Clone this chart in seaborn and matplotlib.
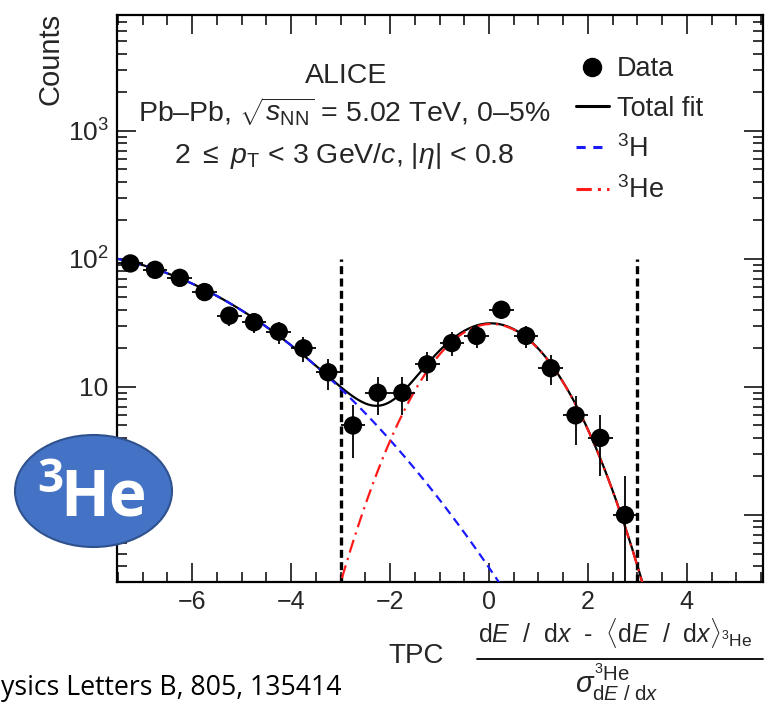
import numpy as np
import matplotlib
matplotlib.use("Agg")
import matplotlib.pyplot as plt
from matplotlib.lines import Line2D
from matplotlib.patches import Ellipse
from matplotlib.ticker import LogLocator, FixedLocator, MultipleLocator, FuncFormatter
import seaborn as sns

# --- measured TPC n-sigma distribution (bin centres, counts) ---
nsigma = [-7.25, -6.75, -6.25, -5.75, -5.25, -4.75, -4.25, -3.75, -3.25, -2.75,
          -2.25, -1.75, -1.25, -0.75, -0.25, 0.25, 0.75, 1.25, 1.75, 2.25, 2.75]
counts = [92, 82, 71, 55, 36, 32, 27, 20, 13, 5,
          9, 9, 15, 22, 25, 40, 25, 14, 6, 4, 1]
bin_half_width = 0.25

# --- fit components (Gaussian parameters) ---
h3_amp, h3_mean, h3_sigma = 112.0, -8.75, 2.60
he3_amp, he3_mean, he3_sigma = 31.0, 0.05, 1.0

# fit range markers
fit_edges = [-3, 3]
fit_edge_top = 100

x_ticks = [-6, -4, -2, 0, 2, 4]

sns.set_theme(style="ticks")
plt.rcParams["font.family"] = ["Liberation Sans", "DejaVu Sans"]
plt.rcParams["mathtext.fontset"] = "custom"
plt.rcParams["mathtext.rm"] = "Liberation Sans"
plt.rcParams["mathtext.it"] = "Liberation Sans:italic"
plt.rcParams["mathtext.bf"] = "Liberation Sans:bold"
plt.rcParams["mathtext.sf"] = "Liberation Sans"
plt.rcParams["axes.unicode_minus"] = True

W, H = 770, 706
fig = plt.figure(figsize=(W / 100, H / 100), dpi=100)
ax = fig.add_axes([117 / W, 1 - 582 / H, (763 - 117) / W, (582 - 15) / H])
ax.set_yscale("log", nonpositive="clip")


def gauss(x, a, m, s):
    return a * np.exp(-0.5 * ((x - m) / s) ** 2)


xf = np.linspace(-7.5, 5.5, 1300)
h3 = gauss(xf, h3_amp, h3_mean, h3_sigma)
he3 = gauss(xf, he3_amp, he3_mean, he3_sigma)
total = h3 + he3

sns.lineplot(x=xf, y=total, ax=ax, color="black", lw=1.6, estimator=None, sort=False, zorder=3)
sns.lineplot(x=xf, y=h3, ax=ax, color="#1a1aff", lw=1.6, linestyle=(0, (4, 2.5)),
             estimator=None, sort=False, zorder=4)
sns.lineplot(x=xf, y=he3, ax=ax, color="#ff1a1a", lw=1.6, linestyle=(0, (6, 2.5, 1, 2.5)),
             estimator=None, sort=False, zorder=4)

for xe in fit_edges:
    ax.vlines(xe, 0.3, fit_edge_top, colors="black", lw=2.4, linestyles=(0, (2.4, 1.3)), zorder=2)

ax.errorbar(nsigma, counts, xerr=bin_half_width, yerr=np.sqrt(counts), fmt="none",
            ecolor="black", elinewidth=1.3, capsize=0, zorder=5)
sns.scatterplot(x=nsigma, y=counts, ax=ax, color="black", s=175, edgecolor="none",
                linewidth=0, zorder=6)

ax.set_xlim(-7.52, 5.54)
ax.set_ylim(0.3, 8000)

ax.xaxis.set_major_locator(FixedLocator(x_ticks))
ax.xaxis.set_minor_locator(MultipleLocator(0.5))
ax.xaxis.set_major_formatter(FuncFormatter(lambda v, p: f"{v:g}".replace("-", "\u2212")))
ax.yaxis.set_major_locator(LogLocator(base=10, numticks=10))
ax.yaxis.set_minor_locator(LogLocator(base=10, subs=np.arange(2, 10), numticks=20))


def ylab(v, p):
    if v <= 0:
        return ""
    e = int(round(np.log10(v)))
    if e <= 0:
        return ""
    if e == 1:
        return "10"
    return rf"$10^{{{e}}}$"


ax.yaxis.set_major_formatter(FuncFormatter(ylab))
ax.yaxis.set_minor_formatter(FuncFormatter(lambda v, p: ""))
ax.tick_params(which="both", direction="in", top=True, right=True, width=1.1, color="black")
ax.tick_params(which="major", length=13.5)
ax.tick_params(which="minor", length=7.2)
ax.tick_params(axis="x", which="major", pad=5.5, labelsize=18)
ax.tick_params(axis="y", which="major", pad=6, labelsize=19)
for sp in ax.spines.values():
    sp.set_linewidth(1.6)
    sp.set_color("black")
ax.set_xlabel("")
ax.set_ylabel("")

# header text
fs = 20.5
fig.text(346 / W, 1 - 83 / H, "ALICE", ha="center", va="baseline", fontsize=fs)
fig.text(344 / W, 1 - 122 / H, "Pb\u2013Pb, $\\sqrt{s_{\\mathrm{NN}}}$ = 5.02 TeV, 0\u20135%",
         ha="center", va="baseline", fontsize=fs)
fig.text(344 / W, 1 - 163 / H, r"2 $\leq$ $p_{\mathrm{T}}$ < 3 GeV/$c$, $|\eta|$ < 0.8",
         ha="center", va="baseline", fontsize=fs)

# legend
handles = [
    Line2D([], [], marker="o", ls="none", color="black", markersize=13),
    Line2D([], [], color="black", lw=2.2),
    Line2D([], [], color="#1a1aff", lw=2.2, linestyle=(0, (3, 2.5))),
    Line2D([], [], color="#ff1a1a", lw=2.2, linestyle=(0, (5, 2, 1, 2))),
]
labels = ["Data", "Total fit", r"$^{3}$H", r"$^{3}$He"]
ax.legend(handles, labels, loc="upper left", bbox_to_anchor=((576 - 117) / 646, (582 - 56) / 567),
          frameon=False, fontsize=19.5, handlelength=1.2, handletextpad=0.3,
          labelspacing=0.5, borderpad=0, borderaxespad=0)

# y axis title
fig.text(51 / W, 1 - 13 / H, "Counts", rotation=90, ha="center", va="top", fontsize=21)

# x axis title
fig.text(416 / W, 1 - 663 / H, "TPC", ha="center", va="baseline", fontsize=20)
fig.text(615 / W, 1 - 642 / H,
         r"d$E$  /  d$x$  -  $\langle$d$E$  /  d$x$$\rangle_{{}^{3}\mathrm{He}}$",
         ha="center", va="baseline", fontsize=18)
fig.add_artist(Line2D([477 / W, 763 / W], [1 - 659 / H, 1 - 659 / H], color="black", lw=1.3,
                      transform=fig.transFigure))
fig.text(617 / W, 1 - 693 / H, r"$\sigma^{{}^{3}\mathrm{He}}_{\mathrm{d}E\ /\ \mathrm{d}x}$",
         ha="center", va="baseline", fontsize=21)

# reference note
fig.text(1 / W, 1 - 695 / H, "ysics Letters B, 805, 135414", ha="left", va="baseline",
         fontsize=19.2, family=["Open Sans", "DejaVu Sans"], color="black")

# species badge
badge = Ellipse((93.5 / W, 1 - 491 / H), 157 / W, 112 / H, transform=fig.transFigure,
                facecolor="#4472C4", edgecolor="#2F528F", lw=1.5, zorder=10)
fig.add_artist(badge)
fig.text(37 / W, 1 - 492 / H, "3", ha="left", va="baseline", fontsize=33, color="white",
         fontweight="bold", family=["Open Sans", "DejaVu Sans"], zorder=11)
fig.text(104 / W, 1 - 515 / H, "He", ha="center", va="baseline", fontsize=46, color="white",
         fontweight="bold", family=["Open Sans", "DejaVu Sans"], zorder=11)

fig.savefig("out.png", dpi=100)
